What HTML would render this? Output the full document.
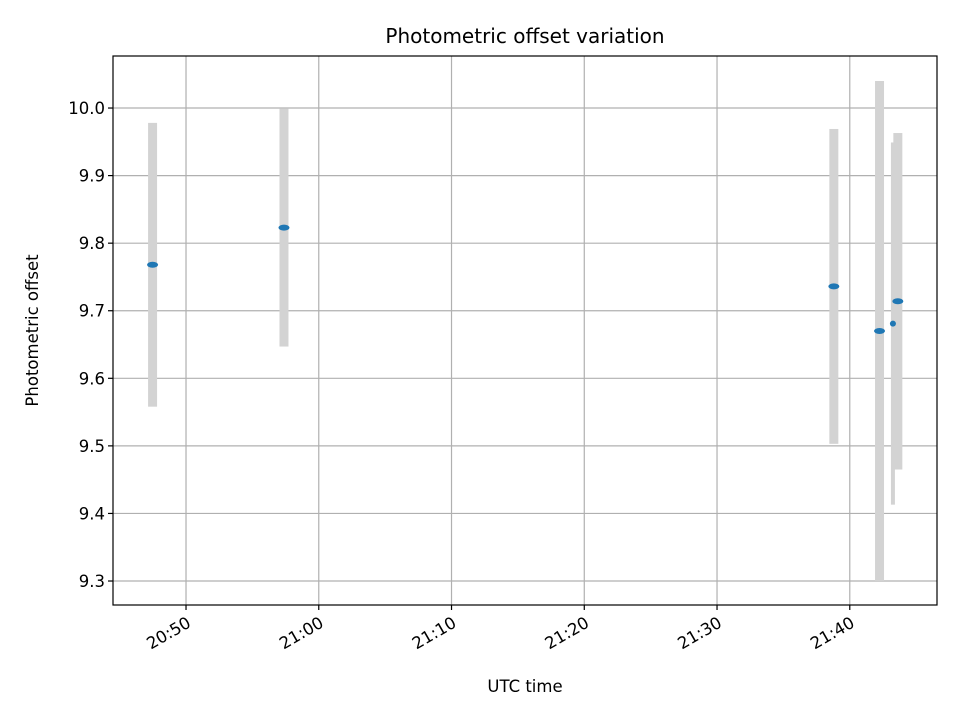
<!DOCTYPE html>
<html><head><meta charset="utf-8"><style>
body{margin:0;background:#fff}
svg text{font-family:"DejaVu Sans","Liberation Sans",sans-serif;fill:#000}
svg text.t14{font-size:16.5px}
svg text.t17{font-size:20px}
</style></head><body>
<svg id="c" width="960" height="720" xmlns="http://www.w3.org/2000/svg">
<rect width="960" height="720" fill="#fff"/>
<g id="grid"></g><g id="bars"></g><g id="pts"></g><g id="axes"></g>
</svg>
<script>
// minutes after 20:40 UTC
const times=[7.48,17.38,58.8,62.24,63.25,63.62];
const offsets=[9.768,9.823,9.736,9.670,9.681,9.714];
const errors=[0.21,0.176,0.233,0.37,0.268,0.249];
const yTicks=[9.3,9.4,9.5,9.6,9.7,9.8,9.9,10.0];
const xTicks=[10,20,30,40,50,60];
const xTickLabels=["20:50","21:00","21:10","21:20","21:30","21:40"];
const L=113,R=937,T=56,B=605;
const xMin=4.5,xMax=66.57,yMin=9.2645,yMax=10.077;
const X=v=>L+(v-xMin)/(xMax-xMin)*(R-L);
const Y=v=>B-(v-yMin)/(yMax-yMin)*(B-T);
const NS="http://www.w3.org/2000/svg";
function mk(tag,attrs,parent){const e=document.createElementNS(NS,tag);for(const k in attrs)e.setAttribute(k,attrs[k]);parent.appendChild(e);return e;}
const grid=document.getElementById('grid'),axes=document.getElementById('axes'),bars=document.getElementById('bars'),pts=document.getElementById('pts');
yTicks.forEach(t=>{
 const g=mk('line',{x1:L,x2:R,y1:Y(t),y2:Y(t),stroke:'#b0b0b0','stroke-width':1.2},grid);
 
 
 const tk=mk('line',{x1:L-5,x2:L,y1:Y(t),y2:Y(t),stroke:'#000','stroke-width':1.2},axes);
 
 
 const tx=mk('text',{x:L-8,y:Y(t)+6,'text-anchor':'end','class':'t14'},axes);
 tx.textContent=t.toFixed(1);
 
 
});
xTicks.forEach((t,i)=>{
 const g=mk('line',{x1:X(t),x2:X(t),y1:T,y2:B,stroke:'#b0b0b0','stroke-width':1.2},grid);
 
 
 const tk=mk('line',{x1:X(t),x2:X(t),y1:B,y2:B+5,stroke:'#000','stroke-width':1.2},axes);
 
 
 const tx=mk('text',{x:0,y:0,'text-anchor':'end','class':'t14',transform:`translate(${X(t)+6},${B+21}) rotate(-30)`},axes);
 tx.textContent=xTickLabels[i];
 
 
});
times.forEach((t,i)=>{
 const w=i===4?4:9;
 const b=mk('rect',{x:X(t)-w/2,y:Y(offsets[i]+errors[i]),width:w,height:Y(offsets[i]-errors[i])-Y(offsets[i]+errors[i]),fill:'#d3d3d3'},bars);
 
 
 const rx=i===4?3:5.5;
 const p=mk('ellipse',{cx:X(t),cy:Y(offsets[i]),rx:rx,ry:3,fill:'#1f77b4'},pts);
 
 
});
const fr=mk('rect',{x:L,y:T,width:R-L,height:B-T,fill:'none',stroke:'#000','stroke-width':1.2},axes);


const ti=mk('text',{x:(L+R)/2,y:43,'text-anchor':'middle','class':'t17'},axes);
ti.textContent='Photometric offset variation';


const xl=mk('text',{x:(L+R)/2,y:692,'text-anchor':'middle','class':'t14'},axes);
xl.textContent='UTC time';


const yl=mk('text',{x:0,y:0,'text-anchor':'middle','class':'t14',transform:`translate(38,${(T+B)/2}) rotate(-90)`},axes);
yl.textContent='Photometric offset';


</script>
</body></html>
